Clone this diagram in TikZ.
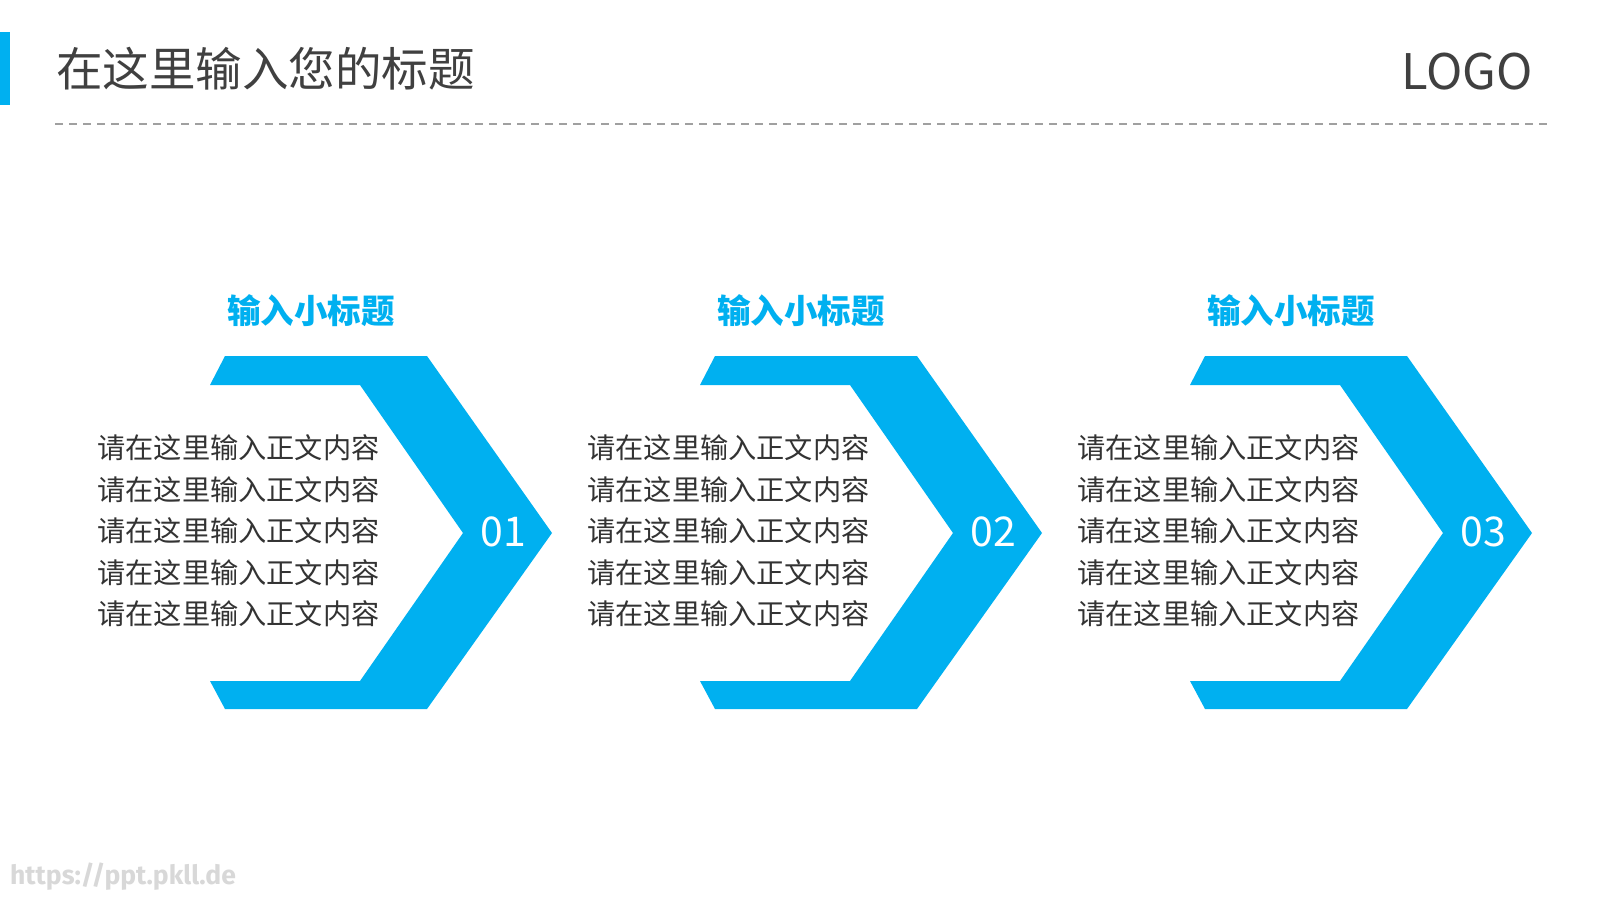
\documentclass[tikz,border=0pt]{standalone}
\usepackage{fontspec}
\setmainfont{Noto Sans CJK SC}
\newfontfamily\wmfont{Fira Sans}
\definecolor{accent}{HTML}{00B0F0}
\definecolor{titlegray}{HTML}{404040}
\definecolor{bodygray}{HTML}{333333}
\definecolor{dashgray}{HTML}{A0A0A0}
\definecolor{wmgray}{HTML}{D8D8D8}
\tikzset{
  titletext/.style={anchor=west,inner sep=0pt,text=titlegray,font=\fontsize{46.5}{50}\selectfont},
  logotext/.style={anchor=east,inner sep=0pt,text=titlegray,font=\fontsize{49}{52}\selectfont},
  subtext/.style={inner sep=0pt,text=accent,font=\fontsize{33.5}{36}\selectfont\bfseries},
  bodytext/.style={inner sep=0pt,align=left,text=bodygray,font=\fontsize{28.2}{41.5}\selectfont},
  numtext/.style={inner sep=0pt,text=white,font=\fontsize{41}{44}\selectfont},
  chevron/.style={fill=accent},
  wmtext/.style={anchor=west,inner sep=0pt,text=wmgray,font=\wmfont\fontsize{26.5}{28}\selectfont\bfseries},
}
\begin{document}
\begin{tikzpicture}[x=1pt,y=-1pt]
\useasboundingbox (0,0) rectangle (1600,900);
\fill[white] (0,0) rectangle (1600,900);
\fill[accent] (0,32) rectangle (10,105);
\node[titletext] (title) at (56,69) {在这里输入您的标题};
\node[logotext] (logo) at (1533,72) {LOGO};
\draw[dashgray,line width=2pt,dash pattern=on 8pt off 6pt] (55,123.5) -- (1547,123.5);
\foreach \i/\n in {0/01,1/02,2/03}{
  \begin{scope}[xshift=\i*490pt]
    \fill[chevron] (210,385) -- (225,356) -- (427,356) -- (552,533) -- (427,709) -- (225,709) -- (210,681) -- (360,681) -- (463,533) -- (360,385) -- cycle;
    \node[subtext] (sub\i) at (311,311) {输入小标题};
    \node[numtext] (num\i) at (503,532) {\n};
    \node[bodytext] (body\i) at (238.5,531) {请在这里输入正文内容\\请在这里输入正文内容\\请在这里输入正文内容\\请在这里输入正文内容\\请在这里输入正文内容};
  \end{scope}
}
\node[wmtext] (wm) at (10,877) {https://ppt.pkll.de};
\end{tikzpicture}
\end{document}
